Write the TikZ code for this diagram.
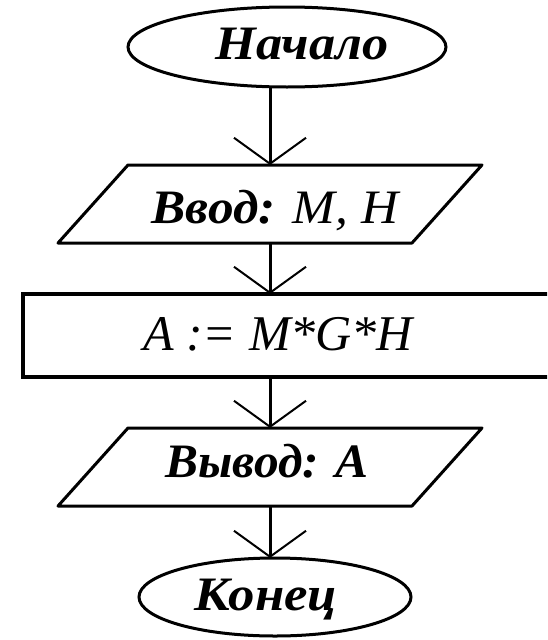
\documentclass[tikz,border=0pt]{standalone}
\usepackage{fontspec}
\setmainfont{Liberation Serif}
\usetikzlibrary{shapes.geometric,arrows.meta}
\tikzset{
  shapeline/.style={draw=black,line width=3pt},
  conn/.style={draw=black,line width=3pt,-{Straight Barb[length=26pt,width=72pt,line width=2pt]}},
  lbl/.style={font=\fontsize{48}{52}\selectfont\bfseries\itshape,inner sep=0pt,anchor=base},
  lblr/.style={font=\fontsize{50}{54}\selectfont\itshape,inner sep=0pt,anchor=base},
}
\begin{document}
\begin{tikzpicture}[x=1pt,y=-1pt]
\useasboundingbox (0,0) rectangle (547,640);
\clip (0,0) rectangle (547,640);
% start
\node[ellipse,shapeline,minimum width=318pt,minimum height=80pt,inner sep=0pt] (start) at (287,47) {};
\node[lbl] (starttxt) at (302,59) {\scalebox{1.09}[1]{Начало}};
% input
\coordinate (in1) at (128,165);
\coordinate (in2) at (482,165);
\coordinate (in3) at (412,243);
\coordinate (in4) at (58,243);
\draw[shapeline,line join=round] (in1) -- (in2) -- (in3) -- (in4) -- cycle;
\node[lbl] (intxt) at (275,223) {\scalebox{1.07}[1]{Ввод: \mdseries M, H}};
% process
\coordinate (pr1) at (23,294);
\coordinate (pr2) at (570,377);
\draw[draw=black,line width=4.5pt] (pr1) rectangle (pr2);
\node[lblr] (prtxt) at (278,350) {A := M*G*H};
% output
\coordinate (out1) at (128,428);
\coordinate (out2) at (482,428);
\coordinate (out3) at (412,506);
\coordinate (out4) at (58,506);
\draw[shapeline,line join=round] (out1) -- (out2) -- (out3) -- (out4) -- cycle;
\node[lbl] (outtxt) at (267,477) {\scalebox{1.03}[1]{Вывод: A}};
% end
\node[ellipse,shapeline,minimum width=272pt,minimum height=78pt,inner sep=0pt] (stop) at (275,597) {};
\node[lbl] (stoptxt) at (266,610) {\scalebox{1.1}[1]{Конец}};
% connectors
\coordinate (c1a) at (270,87);
\coordinate (c1b) at (270,165);
\coordinate (c2a) at (270,243);
\coordinate (c2b) at (270,294);
\coordinate (c3a) at (270,377);
\coordinate (c3b) at (270,428);
\coordinate (c4a) at (270,506);
\coordinate (c4b) at (270,558);
\draw[conn] (c1a) -- (c1b);
\draw[conn] (c2a) -- (c2b);
\draw[conn] (c3a) -- (c3b);
\draw[conn] (c4a) -- (c4b);
\end{tikzpicture}
\end{document}
